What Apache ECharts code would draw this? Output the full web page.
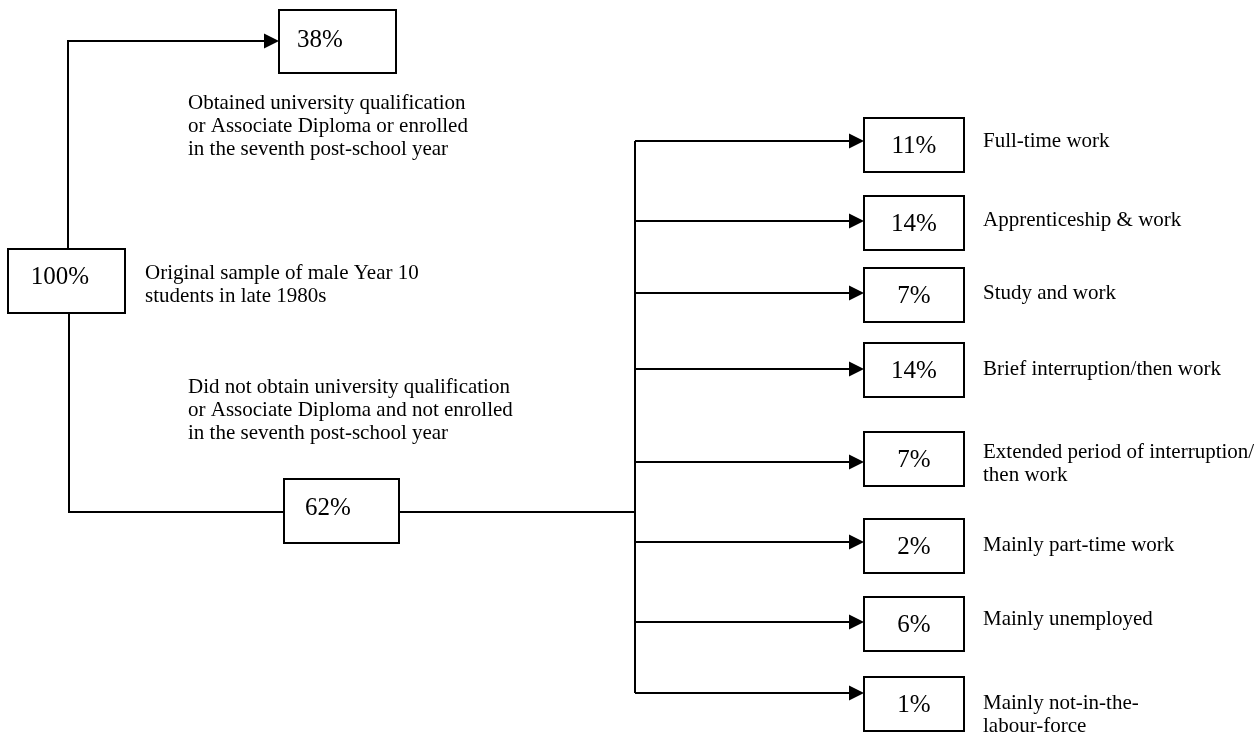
<!DOCTYPE html>
<html>
<head>
<meta charset="utf-8">
<script src="https://cdn.jsdelivr.net/npm/echarts@6/dist/echarts.min.js"></script>
<style>
  html, body { margin: 0; padding: 0; background: #fff; }
  #chart { width: 1258px; height: 735px; }
</style>
</head>
<body>
<div id="chart"></div>
<script>
// ---- data ----
const rootValue = '100%';
const rootNote = 'Original sample of male Year 10\nstudents in late 1980s';
const upperValue = '38%';
const upperNote = 'Obtained university qualification\nor Associate Diploma or enrolled\nin the seventh post-school year';
const lowerValue = '62%';
const lowerNote = 'Did not obtain university qualification\nor Associate Diploma and not enrolled\nin the seventh post-school year';
const branchValues = ['11%', '14%', '7%', '14%', '7%', '2%', '6%', '1%'];
const branchLabels = [
  'Full-time work',
  'Apprenticeship & work',
  'Study and work',
  'Brief interruption/then work',
  'Extended period of interruption/\nthen work',
  'Mainly part-time work',
  'Mainly unemployed',
  'Mainly not-in-the-\nlabour-force'
];

// ---- layout (pixel space of the diagram) ----
const W = 1258, H = 735;
const rootBox = { x: 8, y: 249, w: 117, h: 64, tx: 60, ty: 277 };
const upperBox = { x: 279, y: 10, w: 117, h: 63, tx: 320, ty: 40 };
const lowerBox = { x: 284, y: 479, w: 115, h: 64, tx: 328, ty: 508 };
const branchArrowY = [141, 221, 293, 369, 462, 542, 622, 693];
const branchBoxTop = [118, 196, 268, 343, 432, 519, 597, 677];
const branchBoxX = 864, branchBoxW = 100, branchBoxH = 54;
const branchLabelX = 983;
const branchLabelY = [141, 220, 293, 369, 464, 545, 619, 715];
const trunkX = 635, leftX = 68, lowerLineY = 512, upperLineY = 41;

const FONT = '"Liberation Serif", "Times New Roman", serif';

// boxes
const boxes = [rootBox, upperBox, lowerBox].map((b, i) => ({
  rect: [b.x, b.y, b.w, b.h], text: [rootValue, upperValue, lowerValue][i], t: [b.tx, b.ty]
}));
branchValues.forEach((v, i) => {
  boxes.push({ rect: [branchBoxX, branchBoxTop[i], branchBoxW, branchBoxH], text: v,
    t: [branchBoxX + branchBoxW / 2, branchBoxTop[i] + branchBoxH / 2 + 1] });
});

// connectors: polylines, arrow flag
const connectors = [
  { pts: [[leftX, rootBox.y], [leftX, upperLineY], [upperBox.x, upperLineY]], arrow: true },
  { pts: [[leftX + 1, rootBox.y + rootBox.h], [leftX + 1, lowerLineY], [lowerBox.x, lowerLineY]], arrow: false },
  { pts: [[lowerBox.x + lowerBox.w, lowerLineY], [trunkX, lowerLineY]], arrow: false },
  { pts: [[trunkX, branchArrowY[0]], [trunkX, branchArrowY[branchArrowY.length - 1]]], arrow: false }
];
branchArrowY.forEach(y => connectors.push({ pts: [[trunkX, y], [branchBoxX, y]], arrow: true }));

// notes
const notes = [
  { text: upperNote, x: 188, y: 126 },
  { text: rootNote, x: 145, y: 285 },
  { text: lowerNote, x: 188, y: 410 }
];
branchLabels.forEach((l, i) => notes.push({ text: l, x: branchLabelX, y: branchLabelY[i] }));

const chart = echarts.init(document.getElementById('chart'));
chart.setOption({
  backgroundColor: '#ffffff',
  animation: false,
  grid: { left: 0, right: 0, top: 0, bottom: 0 },
  xAxis: { type: 'value', min: 0, max: W, show: false },
  yAxis: { type: 'value', min: 0, max: H, inverse: true, show: false },
  series: [
    {
      type: 'custom',
      name: 'connectors',
      data: connectors.map((c, i) => [i]),
      renderItem: function (params, api) {
        const c = connectors[api.value(0)];
        const pts = c.pts.map(p => api.coord(p));
        const children = [];
        let end = pts[pts.length - 1];
        let linePts = pts.slice();
        if (c.arrow) {
          const prev = pts[pts.length - 2];
          const L = 15, Hw = 7.5;
          const dx = end[0] - prev[0], dy = end[1] - prev[1];
          const len = Math.sqrt(dx * dx + dy * dy);
          const ux = dx / len, uy = dy / len;
          const base = [end[0] - ux * L, end[1] - uy * L];
          linePts[linePts.length - 1] = base;
          children.push({
            type: 'polygon',
            shape: { points: [end, [base[0] - uy * Hw, base[1] + ux * Hw], [base[0] + uy * Hw, base[1] - ux * Hw]] },
            style: { fill: '#000' }
          });
        }
        children.unshift({
          type: 'polyline',
          shape: { points: linePts },
          style: { stroke: '#000', lineWidth: 2, fill: null }
        });
        return { type: 'group', children: children };
      }
    },
    {
      type: 'custom',
      name: 'boxes',
      data: boxes.map((b, i) => [i]),
      renderItem: function (params, api) {
        const b = boxes[api.value(0)];
        const p0 = api.coord([b.rect[0], b.rect[1]]);
        const p1 = api.coord([b.rect[0] + b.rect[2], b.rect[1] + b.rect[3]]);
        const t = api.coord(b.t);
        return {
          type: 'group',
          children: [
            { type: 'rect', shape: { x: p0[0], y: p0[1], width: p1[0] - p0[0], height: p1[1] - p0[1] },
              style: { fill: '#fff', stroke: '#000', lineWidth: 2 } },
            { type: 'text', style: { text: b.text, x: t[0], y: t[1], fill: '#000',
              font: '25px ' + FONT, align: 'center', verticalAlign: 'middle',
              textAlign: 'center', textVerticalAlign: 'middle' } }
          ]
        };
      }
    },
    {
      type: 'custom',
      name: 'notes',
      data: notes.map((n, i) => [i]),
      renderItem: function (params, api) {
        const n = notes[api.value(0)];
        const p = api.coord([n.x, n.y]);
        return {
          type: 'text',
          style: { text: n.text, x: p[0], y: p[1], fill: '#000', font: '21px ' + FONT,
            lineHeight: 23, align: 'left', verticalAlign: 'middle',
            textAlign: 'left', textVerticalAlign: 'middle' }
        };
      }
    }
  ]
});
</script>
</body>
</html>
